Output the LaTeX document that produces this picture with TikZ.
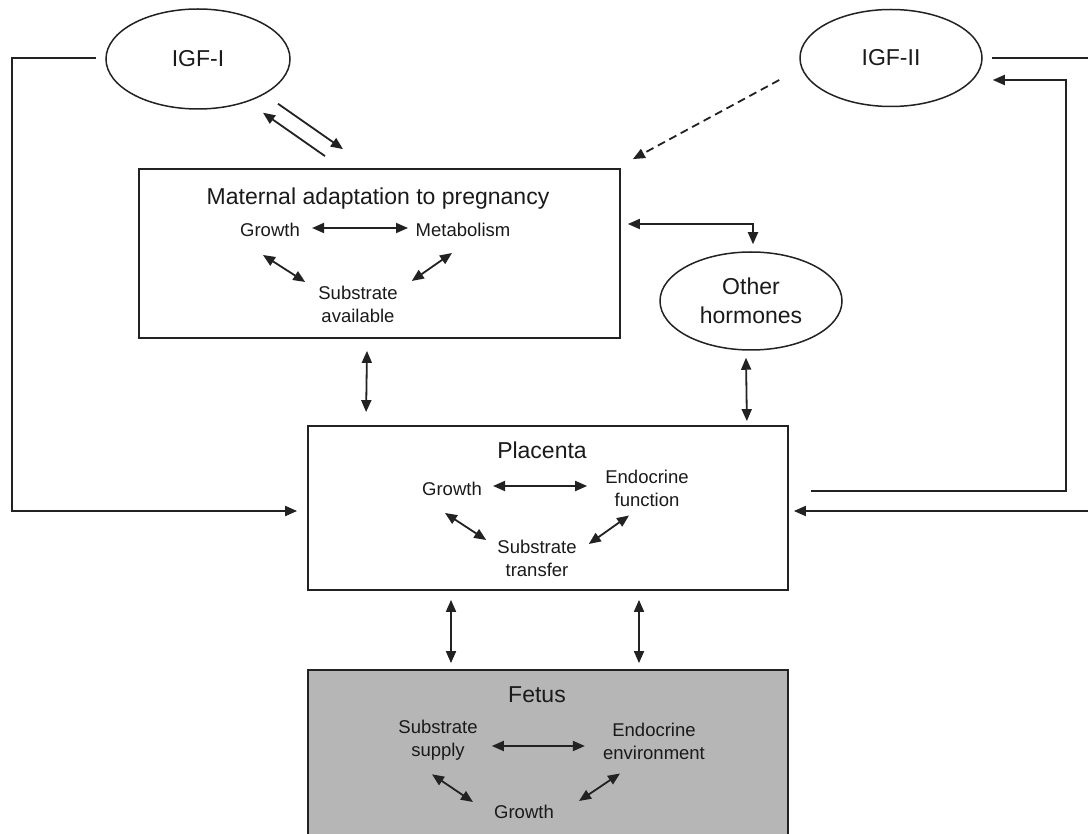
\documentclass[tikz,border=0pt]{standalone}
\usepackage{fontspec}
\setmainfont{Liberation Sans}
\usetikzlibrary{shapes.geometric,arrows.meta,calc}
\definecolor{ln}{HTML}{222222}
\definecolor{txt}{HTML}{1A1A1A}
\definecolor{fetfill}{RGB}{182,182,182}
\begin{document}
\begin{tikzpicture}[x=1pt,y=-1pt,
  box/.style={draw=ln, line width=1.8pt, fill=white, inner sep=0pt},
  oval/.style={ellipse, draw=ln, line width=1.5pt, inner sep=0pt, text=txt, font=\fontsize{23}{29}\selectfont},
  big/.style={font=\fontsize{23}{28}\selectfont, inner sep=0pt, text=txt},
  small/.style={font=\fontsize{18.5}{23}\selectfont, inner sep=0pt, align=center, text=txt},
  con/.style={draw=ln, line width=1.8pt},
  ar/.style={con, -{Triangle[length=12pt,width=10pt]}},
  dar/.style={con, {Triangle[length=12pt,width=10pt]}-{Triangle[length=12pt,width=10pt]}},
  dashar/.style={ar, dash pattern=on 8pt off 5pt},
]
\useasboundingbox[fill=white] (0,0) rectangle (1088,834);

% boxes
\node[box, minimum width=481pt, minimum height=169pt] (mat) at (379.5,253.5) {};
\node[box, minimum width=480pt, minimum height=164pt] (pla) at (548,508) {};
\node[box, fill=fetfill, minimum width=480pt, minimum height=180pt] (fet) at (548,760) {};

% ellipses
\node[oval, minimum width=184pt, minimum height=100pt] (igf1) at (198,59) {IGF-I};
\node[oval, minimum width=182pt, minimum height=97pt] (igf2) at (891,58) {IGF-II};
\node[oval, minimum width=182pt, minimum height=98pt, align=center] (oh) at (751,301) {Other\\hormones};

% maternal box texts
\node[big] (matt) at (378,199) {Maternal adaptation to pregnancy};
\node[small] (g1) at (270,230) {Growth};
\node[small] (m1) at (463,230) {Metabolism};
\node[small] (s1) at (358,304) {Substrate\\available};

% placenta texts
\node[big] (plat) at (542,450) {Placenta};
\node[small] (g2) at (452,489) {Growth};
\node[small] (e2) at (647,488) {Endocrine\\function};
\node[small] (s2) at (537,558) {Substrate\\transfer};

% fetus texts
\node[big] (fett) at (537,695) {Fetus};
\node[small] (s3) at (438,740) {Substrate\\supply};
\node[small] (e3) at (654,741) {Endocrine\\environment};
\node[small] (g3) at (524,812) {Growth};

% routing coordinates
\coordinate (lx) at (12,300);
\coordinate (rx) at (1096,300);
\coordinate (ix) at (1066,300);

% internal arrows: maternal
\draw[dar] ($(g1.east)+(12,-2)$) -- ($(m1.west)+(-7.5,-2)$);
\draw[dar] ($(g1.south)+(-7,18)$) -- ($(s1.west)+(-13,-22)$);
\draw[dar] ($(m1.south)+(-11,16)$) -- ($(s1.east)+(14,-23)$);

% internal arrows: placenta
\draw[dar] ($(g2.east)+(11,-3)$) -- ($(e2.west)+(-18,-2)$);
\draw[dar] ($(g2.south)+(-7,17)$) -- ($(s2.west)+(-11,-18)$);
\draw[dar] ($(e2.south)+(-18,9)$) -- ($(s2.east)+(12,-14)$);

% internal arrows: fetus
\draw[dar] ($(s3.east)+(14,6)$) -- ($(e3.west)+(-18,5)$);
\draw[dar] ($(s3.south)+(-6,14)$) -- ($(g3.west)+(-21,-10)$);
\draw[dar] ($(e3.south)+(-34,14)$) -- ($(g3.east)+(25,-11)$);

% IGF-I <-> maternal
\draw[ar] ($(mat.north)+(-54.5,-12)$) -- ($(igf1.south)+(65,3)$);
\draw[ar] ($(igf1.south)+(80,-6)$) -- ($(mat.north)+(-36.5,-19)$);

% IGF-II dashed to maternal
\draw[dashar] ($(igf2.west)+(-20,22)$) -- ($(mat.north east)+(12,-9)$);

% maternal <-> other hormones
\draw[dar] ($(mat.east)+(7,-29.5)$) -| ($(oh.north)+(2,-7)$);

% vertical links
\draw[dar] ($(mat.south)+(-12.5,12)$) -- ($(pla.north west)+(59,-13)$);
\draw[dar] ($(oh.south)+(-5,7)$) -- ($(pla.north east)+(-42,-4)$);
\draw[dar] ($(pla.south)+(-97,9)$) -- ($(fet.north)+(-97,-6)$);
\draw[dar] ($(pla.south)+(91,9)$) -- ($(fet.north)+(91,-6)$);

% IGF-I to placenta (outer left)
\draw[ar] ($(igf1.west)+(-9,-1)$) -| (lx) |- ($(pla.west)+(-10,3)$);

% IGF-II to placenta (outer right)
\draw[ar] ($(igf2.east)+(9,0)$) -| (rx) |- ($(pla.east)+(5,3)$);

% placenta to IGF-II (inner right)
\draw[ar] ($(pla.east)+(22,-17)$) -| (ix) |- ($(igf2.east)+(10,22)$);

\end{tikzpicture}
\end{document}
